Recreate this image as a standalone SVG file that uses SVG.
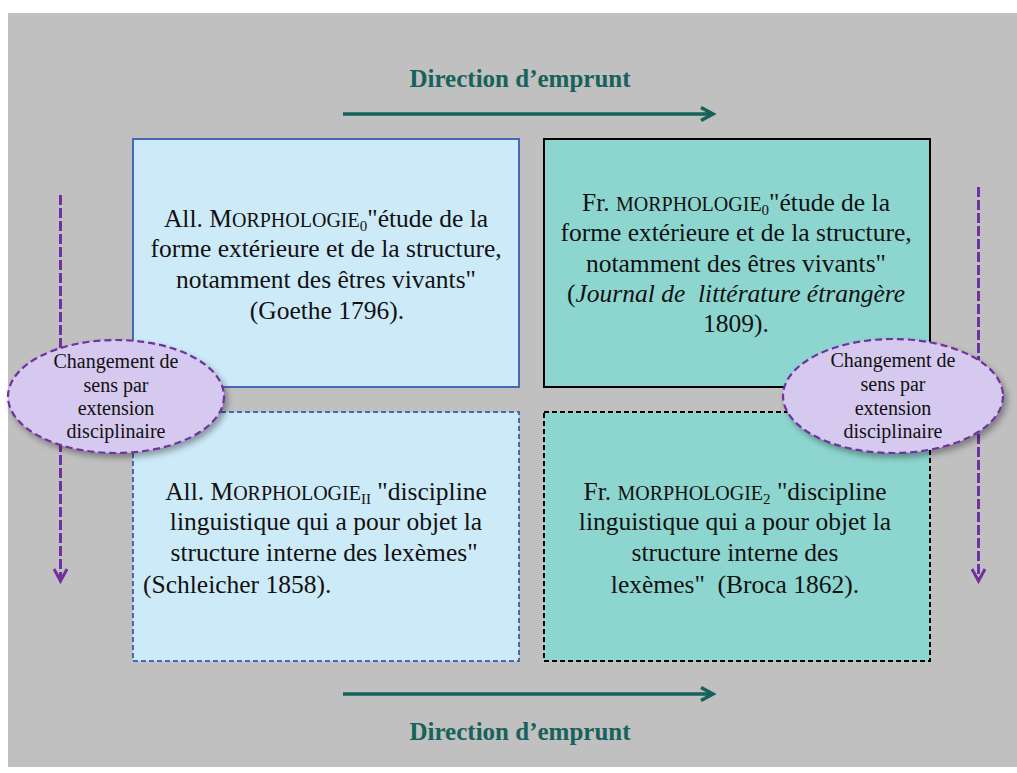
<svg xmlns="http://www.w3.org/2000/svg" width="1017" height="773" viewBox="0 0 1017 773">
<style>
.bg{fill:#c0c0c0}
.t{font-family:"Liberation Serif","Times New Roman",serif;font-size:25.5px;fill:#111}
.sc{font-size:20px}
.sub{font-size:15px}
.ttl{font-family:"Liberation Serif","Times New Roman",serif;font-size:25px;font-weight:bold;fill:#17625a}
.el{font-family:"Liberation Serif","Times New Roman",serif;font-size:20px;fill:#111}
.blue{fill:#cdeaf8;stroke:#4a66b8;stroke-width:2}
.teal{fill:#8dd6cf;stroke:#000;stroke-width:2}
.dash{stroke-dasharray:5 3}
.oval{fill:#d6c9ef;stroke:#7030a0;stroke-width:2.2;stroke-dasharray:7 4}
.harrow{stroke:#17625a;stroke-width:3.5;fill:none}
.varrow{stroke:#7030a0;stroke-width:3;fill:none}
</style>
<defs>
<filter id="sh" x="-20%" y="-20%" width="150%" height="150%">
<feDropShadow dx="3" dy="4" stdDeviation="3" flood-color="#000" flood-opacity="0.35"/>
</filter>
</defs>
<rect class="bg" x="8" y="13" width="1009" height="754"/>

<g id="connectors">
<g id="arrow-top">
<line class="harrow" x1="343" y1="114" x2="710" y2="114"/>
<polyline class="harrow" points="701,107.5 713,114 701,120.5"/>
</g>
<g id="arrow-bottom">
<line class="harrow" x1="343" y1="694" x2="710" y2="694"/>
<polyline class="harrow" points="701,687.5 713,694 701,700.5"/>
</g>
<g id="arrow-left">
<line class="varrow" x1="60.5" y1="195" x2="60.5" y2="578" stroke-dasharray="10 3"/>
<polyline class="varrow" points="54,569 60.5,581 67,569"/>
</g>
<g id="arrow-right">
<line class="varrow" x1="978.5" y1="187" x2="978.5" y2="578" stroke-dasharray="10 3"/>
<polyline class="varrow" points="972,569 978.5,581 985,569"/>
</g>
</g>

<g id="label-top"><text class="ttl" x="520" y="87" text-anchor="middle">Direction d’emprunt</text></g>
<g id="label-bottom"><text class="ttl" x="520" y="740" text-anchor="middle">Direction d’emprunt</text></g>

<g id="node-all-0">
<rect class="blue" x="133" y="139" width="386" height="248"/>
<text class="t" x="326" y="227" text-anchor="middle">All. M<tspan class="sc">ORPHOLOGIE</tspan><tspan class="sub" dy="4">0</tspan><tspan dy="-4">"étude de la</tspan></text>
<text class="t" x="326" y="257" text-anchor="middle">forme extérieure et de la structure,</text>
<text class="t" x="326" y="288" text-anchor="middle">notamment des êtres vivants"</text>
<text class="t" x="327" y="319" text-anchor="middle">(Goethe 1796).</text>
</g>

<g id="node-fr-0">
<rect class="teal" x="544" y="139" width="386" height="248"/>
<text class="t" x="736" y="211" text-anchor="middle">Fr. <tspan class="sc">MORPHOLOGIE</tspan><tspan class="sub" dy="4">0</tspan><tspan dy="-4">"étude de la</tspan></text>
<text class="t" x="736" y="241" text-anchor="middle">forme extérieure et de la structure,</text>
<text class="t" x="736" y="272" text-anchor="middle">notamment des êtres vivants"</text>
<text class="t" x="736" y="302" text-anchor="middle" xml:space="preserve">(<tspan font-style="italic">Journal de  littérature étrangère</tspan></text>
<text class="t" x="736" y="332" text-anchor="middle">1809).</text>
</g>

<g id="node-all-II">
<rect class="blue dash" x="133" y="412" width="386" height="249"/>
<text class="t" x="326" y="500" text-anchor="middle">All. M<tspan class="sc">ORPHOLOGIE</tspan><tspan class="sub" dy="4">II</tspan><tspan dy="-4"> "discipline</tspan></text>
<text class="t" x="326" y="530" text-anchor="middle">linguistique qui a pour objet la</text>
<text class="t" x="324" y="561" text-anchor="middle">structure interne des lexèmes"</text>
<text class="t" x="143" y="593">(Schleicher 1858).</text>
</g>

<g id="node-fr-2">
<rect class="teal dash" x="544" y="412" width="386" height="249"/>
<text class="t" x="735" y="500" text-anchor="middle">Fr. <tspan class="sc">MORPHOLOGIE</tspan><tspan class="sub" dy="4">2</tspan><tspan dy="-4"> "discipline</tspan></text>
<text class="t" x="735" y="530" text-anchor="middle">linguistique qui a pour objet la</text>
<text class="t" x="735" y="561" text-anchor="middle">structure interne des</text>
<text class="t" x="735" y="593" text-anchor="middle" xml:space="preserve">lexèmes"  (Broca 1862).</text>
</g>

<g id="oval-left">
<ellipse class="oval" cx="116" cy="396.5" rx="108" ry="56.5" filter="url(#sh)"/>
<text class="el" x="116" y="368" text-anchor="middle">Changement de</text>
<text class="el" x="116" y="392" text-anchor="middle">sens par</text>
<text class="el" x="116" y="415" text-anchor="middle">extension</text>
<text class="el" x="116" y="438" text-anchor="middle">disciplinaire</text>
</g>

<g id="oval-right">
<ellipse class="oval" cx="893" cy="396" rx="110" ry="57" filter="url(#sh)"/>
<text class="el" x="893" y="367" text-anchor="middle">Changement de</text>
<text class="el" x="893" y="391" text-anchor="middle">sens par</text>
<text class="el" x="893" y="415" text-anchor="middle">extension</text>
<text class="el" x="893" y="438" text-anchor="middle">disciplinaire</text>
</g>
</svg>
